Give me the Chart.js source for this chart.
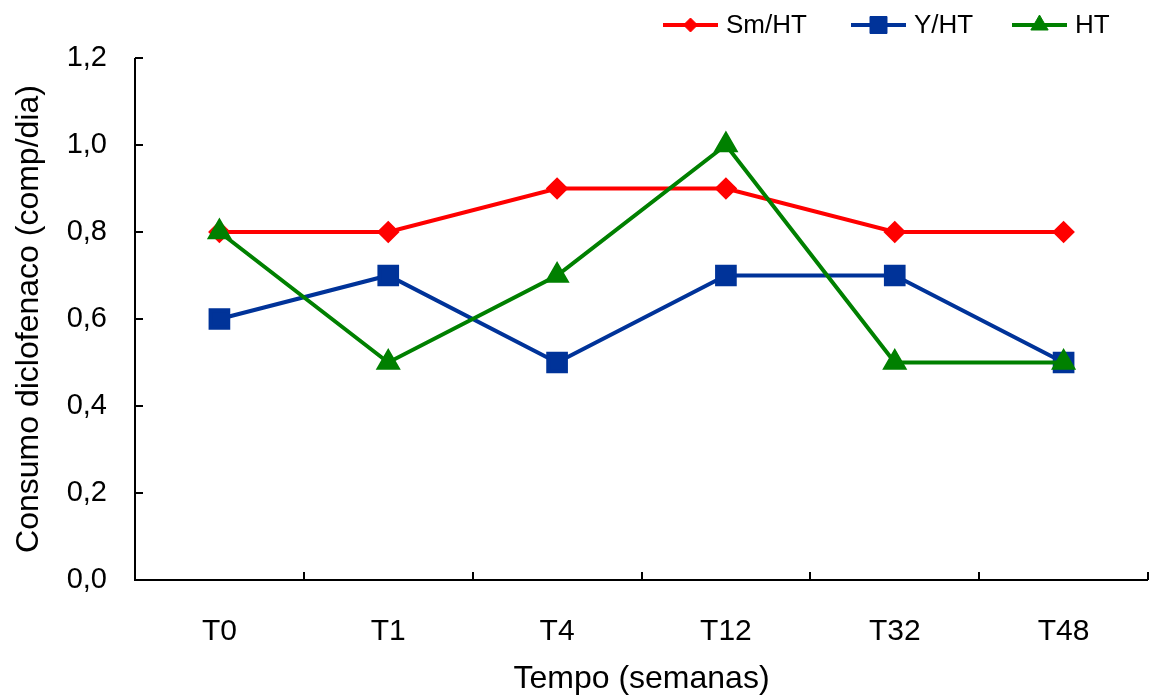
<!DOCTYPE html>
<html>
<head>
<meta charset="utf-8">
<script src="https://cdn.jsdelivr.net/npm/chart.js@4.4.1/dist/chart.umd.min.js"></script>
<style>
  html, body { margin: 0; padding: 0; background: #fff; }
  canvas { display: block; }
</style>
</head>
<body>
<canvas id="grafico" width="1151" height="698"></canvas>
<script>
// Consumo de diclofenaco ao longo do tempo
const tempos = ['T0', 'T1', 'T4', 'T12', 'T32', 'T48'];
const smHT = [0.8, 0.8, 0.9, 0.9, 0.8, 0.8];
const yHT = [0.6, 0.7, 0.5, 0.7, 0.7, 0.5];
const ht = [0.8, 0.5, 0.7, 1.0, 0.5, 0.5];

const FONTE = '"Liberation Sans", Arial, sans-serif';

// eixos estilo Excel: ticks para dentro
const eixosPlugin = {
    id: 'eixos',
    afterDatasetsDraw(chart) {
        const ctx = chart.ctx;
        const x = chart.scales.x;
        const y = chart.scales.y;
        const area = chart.chartArea;
        ctx.save();
        ctx.strokeStyle = '#000';
        ctx.lineWidth = 2;
        ctx.beginPath();
        ctx.moveTo(area.left, area.top);
        ctx.lineTo(area.left, area.bottom);
        ctx.lineTo(area.right, area.bottom);
        // ticks do eixo y
        y.ticks.forEach(t => {
            const py = Math.round(y.getPixelForValue(t.value));
            ctx.moveTo(area.left, py);
            ctx.lineTo(area.left + 8, py);
        });
        // ticks do eixo x (entre categorias)
        for (let i = 0; i <= tempos.length; i++) {
            const px = Math.round(x.getPixelForValue(i - 0.5));
            ctx.moveTo(px, area.bottom);
            ctx.lineTo(px, area.bottom - 8);
        }
        ctx.stroke();
        ctx.restore();
    }
};

// legenda com linha + marcador
const legendaPlugin = {
    id: 'legendaLinha',
    afterDraw(chart) {
        const ctx = chart.ctx;
        const posicoes = [663, 851, 1012];
        const raios = [7, 12, 10];
        ctx.save();
        ctx.font = '26px ' + FONTE;
        ctx.textBaseline = 'middle';
        chart.data.datasets.forEach((ds, i) => {
            const x0 = posicoes[i];
            const yy = 25;
            ctx.strokeStyle = ds.borderColor;
            ctx.fillStyle = ds.backgroundColor;
            ctx.lineWidth = 4;
            ctx.beginPath();
            ctx.moveTo(x0, yy);
            ctx.lineTo(x0 + 55, yy);
            ctx.stroke();
            ctx.lineWidth = 1;
            Chart.helpers.drawPoint(ctx, {
                pointStyle: ds.pointStyle,
                radius: raios[i],
                borderWidth: 1
            }, x0 + 27.5, yy);
            ctx.fillStyle = '#000';
            ctx.fillText(ds.label, x0 + 63, yy + 1);
        });
        ctx.restore();
    }
};

const ctx = document.getElementById('grafico').getContext('2d');
new Chart(ctx, {
    type: 'line',
    data: {
        labels: tempos,
        datasets: [{
            label: 'Sm/HT',
            data: smHT,
            borderColor: '#ff0000',
            backgroundColor: '#ff0000',
            pointStyle: 'rectRot',
            pointRadius: 8.5,
            borderWidth: 4,
            order: 3
        }, {
            label: 'Y/HT',
            data: yHT,
            borderColor: '#003399',
            backgroundColor: '#003399',
            pointStyle: 'rect',
            pointRadius: 12.5,
            borderWidth: 4,
            order: 2
        }, {
            label: 'HT',
            data: ht,
            borderColor: '#008000',
            backgroundColor: '#008000',
            pointStyle: 'triangle',
            pointRadius: 10.5,
            borderWidth: 4,
            order: 1
        }]
    },
    options: {
        responsive: false,
        animation: false,
        layout: { autoPadding: false, padding: { top: 58, right: 3, left: 0, bottom: 0 } },
        elements: {
            line: { tension: 0 },
            point: { borderWidth: 1 }
        },
        plugins: {
            legend: { display: false },
            tooltip: { enabled: false }
        },
        scales: {
            x: {
                offset: true,
                grid: { display: false, drawTicks: false },
                border: { display: false },
                afterFit: s => { s.height = 118; s.paddingLeft = 0; s.paddingRight = 0; },
                ticks: {
                    color: '#000',
                    padding: 34,
                    font: { family: FONTE, size: 30 }
                },
                title: {
                    display: true,
                    text: 'Tempo (semanas)',
                    color: '#000',
                    font: { family: FONTE, size: 32 },
                    padding: { top: 0, bottom: 0 }
                }
            },
            y: {
                min: 0,
                max: 1.2,
                grid: { display: false, drawTicks: false },
                border: { display: false },
                afterFit: s => { s.width = 135; s.paddingTop = 0; s.paddingBottom = 0; },
                ticks: {
                    stepSize: 0.2,
                    color: '#000',
                    padding: 28,
                    font: { family: FONTE, size: 29 },
                    callback: v => v.toFixed(1).replace('.', ',')
                },
                title: {
                    display: true,
                    text: 'Consumo diclofenaco (comp/dia)',
                    color: '#000',
                    font: { family: FONTE, size: 32 },
                    padding: { top: 10, bottom: 0 }
                }
            }
        }
    },
    plugins: [eixosPlugin, legendaPlugin]
});
</script>
</body>
</html>
